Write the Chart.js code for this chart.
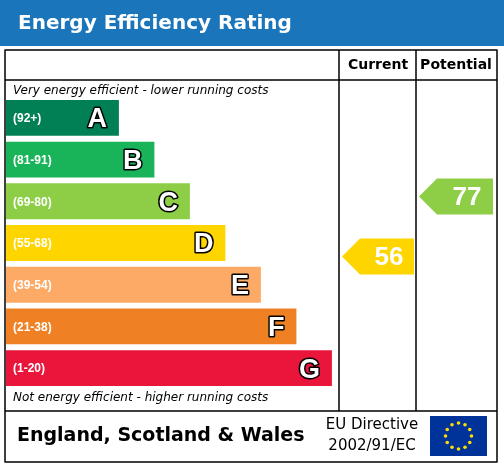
<!DOCTYPE html>
<html><head><meta charset="utf-8">
<script src="https://cdn.jsdelivr.net/npm/chart.js@4"></script>
<style>html,body{margin:0;padding:0;background:#fff}#c{display:block}</style>
</head><body>
<canvas id="c" width="504" height="466"></canvas>
<script>
const bandLetters = ["A", "B", "C", "D", "E", "F", "G"];
const bandRanges = ["(92+)", "(81-91)", "(69-80)", "(55-68)", "(39-54)", "(21-38)", "(1-20)"];
const bandSteps = [1, 2, 3, 4, 5, 6, 7];
const bandColors = ["#008054", "#19b459", "#8dce46", "#ffd500", "#fcaa65", "#ef8023", "#e9153b"];
const currentRating = 56;
const potentialRating = 77;

const BASE = -2.18;
const F = "'DejaVu Sans', Verdana, sans-serif";
const A = "'Liberation Sans', Arial, sans-serif";

function ratingColor(r) {
  if (r >= 92) return bandColors[0];
  if (r >= 81) return bandColors[1];
  if (r >= 69) return bandColors[2];
  if (r >= 55) return bandColors[3];
  if (r >= 39) return bandColors[4];
  if (r >= 21) return bandColors[5];
  return bandColors[6];
}

function arrow(ctx, x0, x1, yc, h, color, label) {
  const tip = h / 2;
  ctx.fillStyle = color;
  ctx.beginPath();
  ctx.moveTo(x0, yc);
  ctx.lineTo(x0 + tip, yc - h / 2);
  ctx.lineTo(x1, yc - h / 2);
  ctx.lineTo(x1, yc + h / 2);
  ctx.lineTo(x0 + tip, yc + h / 2);
  ctx.closePath();
  ctx.fill();
  ctx.font = "bold 26px " + A;
  ctx.textAlign = "center";
  ctx.textBaseline = "middle";
  ctx.fillStyle = "#fff";
  ctx.fillText(label, (x0 + tip + x1) / 2 + 2, yc + 1);
}

const epcFrame = {
  id: "epcFrame",
  beforeDraw(chart) {
    const ctx = chart.ctx;
    ctx.save();
    ctx.fillStyle = "#fff";
    ctx.fillRect(0, 0, 504, 466);
    ctx.fillStyle = "#1a75bb";
    ctx.fillRect(0, 0, 504, 46);
    ctx.fillStyle = "#fff";
    ctx.font = "bold 20px " + F;
    ctx.textBaseline = "middle";
    ctx.textAlign = "left";
    ctx.fillText("Energy Efficiency Rating", 18, 24);
    ctx.restore();
  },
  afterDatasetsDraw(chart) {
    const ctx = chart.ctx;
    const meta = chart.getDatasetMeta(0);
    ctx.save();
    meta.data.forEach((bar, i) => {
      ctx.textBaseline = "middle";
      ctx.fillStyle = "#fff";
      ctx.textAlign = "left";
      ctx.font = "bold 12px " + A;
      ctx.fillText(bandRanges[i], bar.base + 7, bar.y + 1);
      ctx.textAlign = "right";
      ctx.font = "bold 27px " + A;
      ctx.lineWidth = 3;
      ctx.strokeStyle = "#000";
      ctx.lineJoin = "round";
      ctx.strokeText(bandLetters[i], bar.x - 12, bar.y + 2);
      ctx.fillText(bandLetters[i], bar.x - 12, bar.y + 2);
    });

    ctx.strokeStyle = "#000";
    ctx.lineWidth = 1.5;
    ctx.strokeRect(5, 50, 492, 412);
    ctx.beginPath();
    ctx.moveTo(5, 80); ctx.lineTo(497, 80);
    ctx.moveTo(5, 411); ctx.lineTo(497, 411);
    ctx.moveTo(339, 50); ctx.lineTo(339, 411);
    ctx.moveTo(416, 50); ctx.lineTo(416, 411);
    ctx.stroke();

    ctx.fillStyle = "#000";
    ctx.textBaseline = "middle";
    ctx.textAlign = "center";
    ctx.font = "bold 14px " + F;
    ctx.fillText("Current", 378, 65);
    ctx.fillText("Potential", 456, 65);

    ctx.textAlign = "left";
    ctx.font = "oblique 12px " + F;
    ctx.fillText("Very energy efficient - lower running costs", 13, 91);
    ctx.fillText("Not energy efficient - higher running costs", 13, 398);

    ctx.font = "bold 19px " + F;
    ctx.fillText("England, Scotland & Wales", 17, 436);
    ctx.textAlign = "center";
    ctx.font = "15px " + F;
    ctx.fillText("EU Directive", 372, 425);
    ctx.fillText("2002/91/EC", 372, 446);

    ctx.fillStyle = "#003399";
    ctx.fillRect(430, 416, 57, 40);
    ctx.fillStyle = "#ffdd00";
    for (let k = 0; k < 12; k++) {
      const a = k * Math.PI / 6;
      ctx.beginPath();
      ctx.arc(458.5 + 13 * Math.cos(a), 436 + 13 * Math.sin(a), 1.8, 0, Math.PI * 2);
      ctx.fill();
    }

    const y2 = chart.scales.y2;
    arrow(ctx, 342, 414, y2.getPixelForValue(currentRating), 36, ratingColor(currentRating), String(currentRating));
    arrow(ctx, 419, 493, y2.getPixelForValue(potentialRating), 36, ratingColor(potentialRating), String(potentialRating));
    ctx.restore();
  }
};

new Chart(document.getElementById("c"), {
  type: "bar",
  data: {
    labels: bandLetters,
    datasets: [{
      data: bandSteps,
      base: BASE,
      backgroundColor: bandColors,
      barPercentage: 0.86,
      categoryPercentage: 1
    }]
  },
  options: {
    indexAxis: "y",
    responsive: false,
    animation: false,
    events: [],
    layout: { padding: { left: 6, right: 165, top: 97, bottom: 77 } },
    plugins: { legend: { display: false }, tooltip: { enabled: false } },
    scales: {
      x: { type: "linear", min: BASE, max: 7.2, display: false },
      y: { display: false },
      y2: { type: "linear", min: 14.3, max: 107.2, display: false, position: "right" }
    }
  },
  plugins: [epcFrame]
});
</script>
</body></html>
